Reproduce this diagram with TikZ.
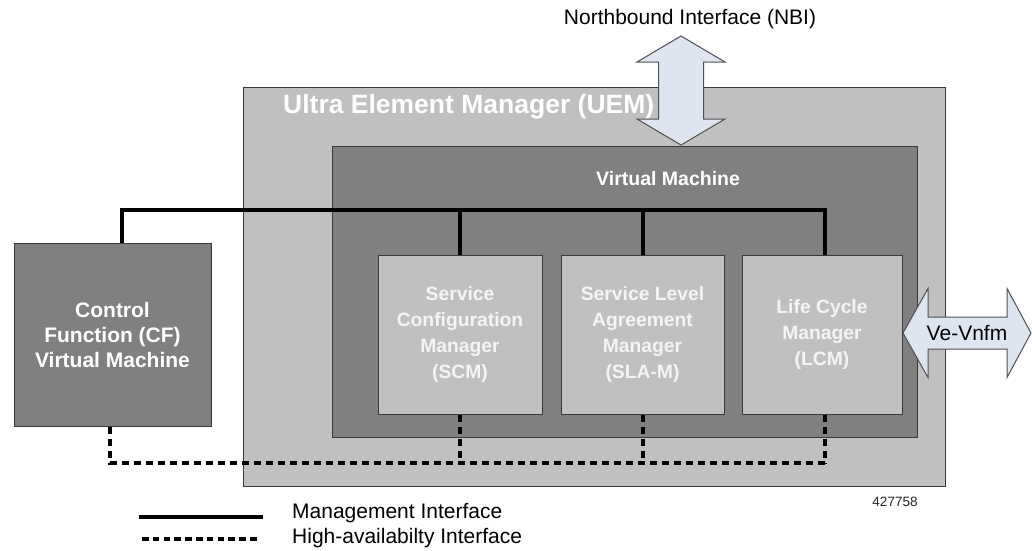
\documentclass[tikz,border=0pt]{standalone}
\usepackage{fontspec}
\setmainfont{Liberation Sans}
\definecolor{uemgray}{HTML}{C0C0C0}
\definecolor{vmgray}{HTML}{808080}
\definecolor{edge}{HTML}{3A3A3A}
\definecolor{arrowfill}{HTML}{DEE5F1}
\definecolor{arrowedge}{HTML}{505050}
\definecolor{boxtext}{HTML}{F4F4F4}
\begin{document}
\begin{tikzpicture}[x=1pt,y=-1pt,
  box/.style={draw=edge, line width=1pt, inner sep=0pt},
  comp/.style={box, fill=uemgray, minimum width=164pt, minimum height=159pt, text=boxtext,
    font=\bfseries\fontsize{19.3}{26}\selectfont, align=center},
  mgmt/.style={line width=4pt, black},
  ha/.style={line width=4pt, black, dash pattern=on 7pt off 5pt},
  dblarrow/.style={draw=arrowedge, line width=1pt, fill=arrowfill, line join=miter},
  lbl/.style={inner sep=0pt, font=\fontsize{21}{25}\selectfont}]
\useasboundingbox (0,0) rectangle (1032,550);
\fill[white] (0,0) rectangle (1032,550);

% containers
\node[box, fill=uemgray, minimum width=702pt, minimum height=399pt, anchor=north west] (uem) at (243,87) {};
\node[box, fill=vmgray, minimum width=585pt, minimum height=291pt, anchor=north west] (vm) at (332,146) {};
\node[anchor=base west, inner sep=0pt, text=white, font=\bfseries\fontsize{26.5}{30}\selectfont] (uemlabel) at (283,113) {Ultra Element Manager (UEM)};
\node[anchor=base west, inner sep=0pt, text=white, font=\bfseries\fontsize{19.5}{24}\selectfont] (vmlabel) at (596,185) {Virtual Machine};

% components
\node[box, fill=vmgray, minimum width=197pt, minimum height=183pt, text=white,
  font=\bfseries\fontsize{21}{25}\selectfont, align=center] (cf) at (112.5,334.5)
  {Control\\Function (CF)\\Virtual Machine};
\node[comp] (scm) at (460,334.5) {Service\\Configuration\\Manager\\(SCM)};
\node[comp, minimum width=163pt] (sla) at (642.5,334.5) {Service Level\\Agreement\\Manager\\(SLA-M)};
\node[comp, minimum width=160pt] (lcm) at (822,334.5) {Life Cycle\\Manager\\(LCM)};

% buses
\coordinate (bus) at (0,210);
\coordinate (habus) at (0,463);
\draw[mgmt] ([xshift=9.5pt]cf.north) |- ([xshift=3pt]lcm.north |- bus) -- ([xshift=3pt]lcm.north);
\draw[mgmt] (scm.north) -- (scm.north |- bus);
\draw[mgmt] (sla.north) -- (sla.north |- bus);
\draw[ha] ([xshift=-2.5pt]cf.south) |- ([xshift=3pt]lcm.south |- habus);
\draw[ha] ([xshift=3pt]lcm.south) -- ([xshift=3pt]lcm.south |- habus);
\draw[ha] (scm.south) -- (scm.south |- habus);
\draw[ha] (sla.south) -- (sla.south |- habus);

% Northbound arrow
\draw[dblarrow] (681,36) -- (725,62) -- (703.5,62) -- (703.5,119) -- (725,119) -- (681,145)
  -- (637,119) -- (658.5,119) -- (658.5,62) -- (637,62) -- cycle;
\node[lbl, anchor=base] (nbi) at (690,24) {Northbound Interface (NBI)};

% Ve-Vnfm arrow
\draw[dblarrow] (903,333) -- (928,288.5) -- (928,317) -- (1007,317) -- (1007,288.5) -- (1031,333)
  -- (1007,377.5) -- (1007,349) -- (928,349) -- (928,377.5) -- cycle;
\node[lbl] (vevnfm) at (967,333) {Ve-Vnfm};

% id
\node[inner sep=0pt, font=\fontsize{13.5}{16}\selectfont, text=black!85] (fig) at (895,502) {427758};

% legend
\coordinate (l1a) at (139,517);
\coordinate (l1b) at (263,517);
\coordinate (l2a) at (142,539);
\coordinate (l2b) at (258,539);
\draw[line width=4pt] (l1a) -- (l1b);
\draw[line width=3.5pt, dash pattern=on 6.5pt off 4.3pt] (l2a) -- (l2b);
\node[lbl, anchor=base west] (leg1) at (292,518) {Management Interface};
\node[lbl, anchor=base west] (leg2) at (292,543) {High-availabilty Interface};
\end{tikzpicture}
\end{document}
